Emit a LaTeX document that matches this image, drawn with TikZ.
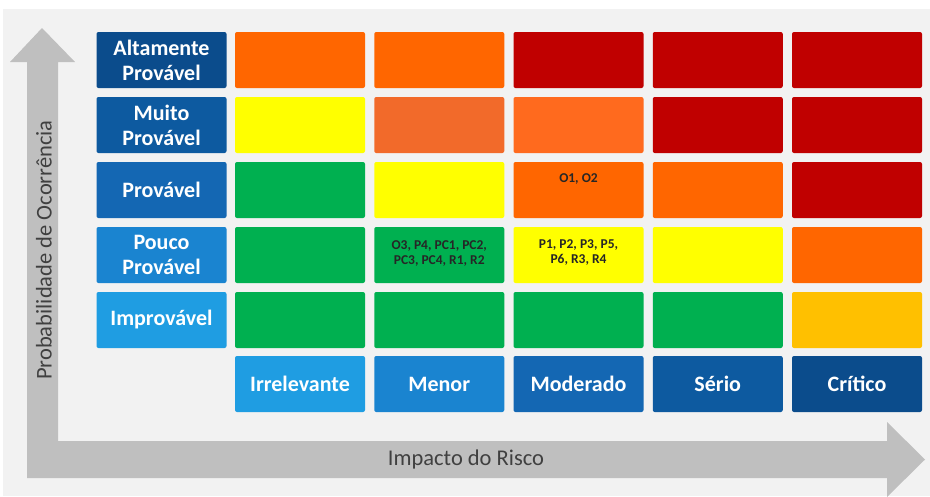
\documentclass[tikz,border=0pt]{standalone}
\usepackage{fontspec}
\setmainfont{Carlito}
\usetikzlibrary{positioning}
\definecolor{bggray}{HTML}{F2F2F2}
\definecolor{arrgray}{HTML}{BFBFBF}
\definecolor{txtgray}{HTML}{404040}
\definecolor{hda}{HTML}{0B4C8C}
\definecolor{hdb}{HTML}{0D5AA0}
\definecolor{hdc}{HTML}{1467B3}
\definecolor{hdd}{HTML}{1A84D0}
\definecolor{hde}{HTML}{1F9DE2}
\definecolor{orng}{HTML}{FF6600}
\definecolor{orA}{HTML}{F26A2A}
\definecolor{orB}{HTML}{FF6A1E}
\definecolor{rred}{HTML}{C00000}
\definecolor{ylw}{HTML}{FFFF00}
\definecolor{grn}{HTML}{00B050}
\definecolor{ambr}{HTML}{FFC000}
\tikzset{
  box/.style={minimum width=130pt, minimum height=56pt, inner sep=0pt, rounded corners=2pt},
  head/.style={box, text=white, align=center, font=\bfseries\fontsize{22}{25}\selectfont},
  tag/.style={align=center, text=black!85, font=\bfseries\fontsize{13.5}{15}\selectfont},
  axlabel/.style={text=txtgray, font=\fontsize{22.5}{26}\selectfont},
}
\begin{document}
\begin{tikzpicture}[x=1pt,y=-1pt]
  \useasboundingbox (0,0) rectangle (930,496);
  \fill[white] (0,0) rectangle (930,496);
  \fill[bggray] (3,9) rectangle (930,496);
  % axes
  \fill[arrgray] (42,28) -- (75,62) -- (58,62) -- (58,441) -- (887,441) -- (887,422)
    -- (925,459.5) -- (887,497) -- (887,478) -- (27,478) -- (27,62) -- (10,62) -- cycle;
  \node[axlabel, rotate=90] (ylab) at (44,250) {Probabilidade de Ocorrência};
  \node[axlabel] (xlab) at (466,459) {Impacto do Risco};
  % probability
  \foreach \i/\txt/\col in {1/{Altamente\\Provável}/hda, 2/{Muito\\Provável}/hdb,
      3/Provável/hdc, 4/{Pouco\\Provável}/hdd, 5/Improvável/hde}
    \node[head, fill=\col] (r\i) at (161.5,{60+65*(\i-1)}) {\txt};
  % impact
  \foreach \txt/\col [count=\j] in {Irrelevante/hde, Menor/hdd, Moderado/hdc,
      Sério/hdb, Crítico/hda}
    \node[head, fill=\col] (c\j) at ({300+139.25*(\j-1)},384) {\txt};
  % matrix
  \foreach \clist [count=\i] in {{orng,orng,rred,rred,rred},{ylw,orA,orB,rred,rred},
      {grn,ylw,orng,orng,rred},{grn,grn,ylw,ylw,orng},{grn,grn,grn,grn,ambr}}
    \foreach \c [count=\j] in \clist
      \node[box, fill=\c] (m\i\j) at ({300+139.25*(\j-1)},{60+65*(\i-1)}) {};
  \node[tag, below=8pt of m33.north] (t33) {O1, O2};
  \node[tag, yshift=2pt] (t42) at (m42) {O3, P4, PC1, PC2,\\PC3, PC4, R1, R2};
  \node[tag, yshift=3pt] (t43) at (m43) {P1, P2, P3, P5,\\P6, R3, R4};
\end{tikzpicture}
\end{document}
